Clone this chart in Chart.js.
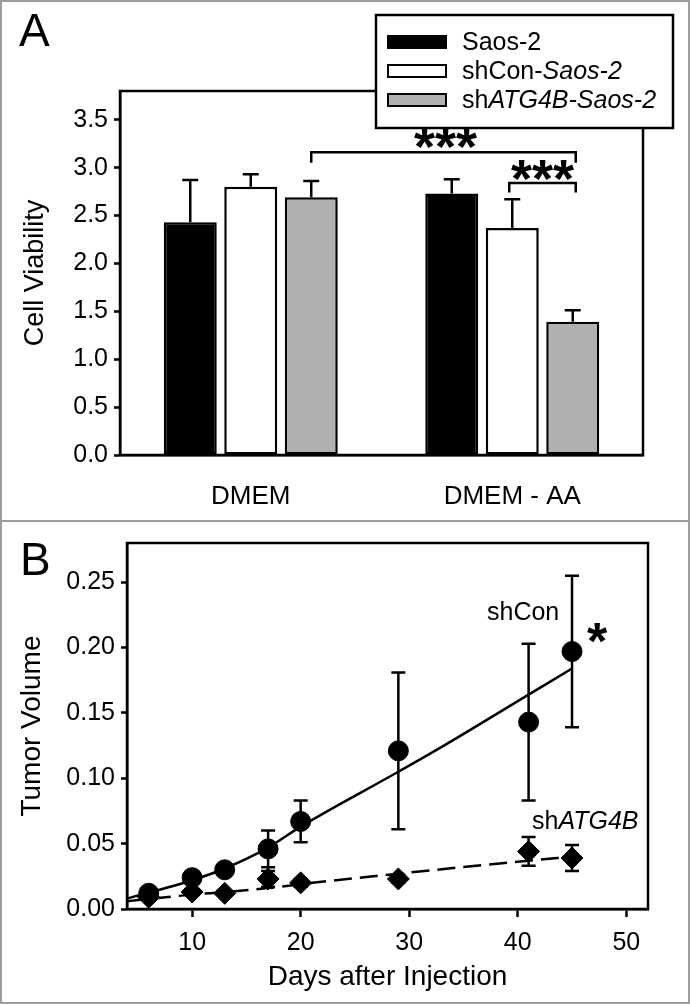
<!DOCTYPE html>
<html>
<head>
<meta charset="utf-8">
<script src="https://cdn.jsdelivr.net/npm/chart.js@4.4.0/dist/chart.umd.min.js"></script>
<style>
  html, body { margin: 0; padding: 0; background: #fff; }
  #wrap { position: relative; width: 690px; height: 1004px; }
  #graficoA { position: absolute; left: 0; top: 0; }
  #graficoB { position: absolute; left: 0; top: 521px; }
  #divider { position: absolute; left: 0; top: 520px; width: 690px; height: 2px; background: #9d9d9d; }
  #frame { position: absolute; left: 0; top: 0; width: 690px; height: 1004px; box-sizing: border-box; border: 2px solid #9d9d9d; pointer-events: none; }
</style>
</head>
<body>
<div id="wrap">
  <canvas id="graficoA" width="690" height="521"></canvas>
  <canvas id="graficoB" width="690" height="483"></canvas>
  <div id="divider"></div>
  <div id="frame"></div>
</div>
<script>
const FONT = "'Liberation Sans', Arial, Helvetica, sans-serif";

// Panel A - cell viability
const conditions = ['DMEM', 'DMEM - AA'];
const cellLines = ['Saos-2', 'shCon-Saos-2', 'shATG4B-Saos-2'];
const saosMean = [2.43, 2.73];
const saosErr = [0.44, 0.15];
const shConMean = [2.80, 2.37];
const shConErr = [0.13, 0.30];
const shAtgMean = [2.69, 1.39];
const shAtgErr = [0.17, 0.12];
const viabilityTicks = [0, 0.5, 1.0, 1.5, 2.0, 2.5, 3.0, 3.5];

// Panel B - tumor volume
const days = [6, 10, 13, 17, 20, 29, 41, 45];
const shConVolume = [0.012, 0.024, 0.030, 0.046, 0.067, 0.121, 0.143, 0.197];
const shConVolErr = [0.002, 0.003, 0.004, 0.014, 0.016, 0.060, 0.060, 0.058];
const shAtgVolume = [0.009, 0.013, 0.012, 0.023, 0.020, 0.023, 0.044, 0.039];
const shAtgVolErr = [0.002, 0.002, 0.002, 0.006, 0.003, 0.003, 0.011, 0.010];
const shConFitDays = [4, 10, 13, 17, 20, 29, 33, 41, 45];
const shConFit = [0.008, 0.022, 0.031, 0.047, 0.063, 0.105, 0.124, 0.164, 0.184];
const shAtgFitDays = [4, 10, 13, 17, 20, 29, 41, 45];
const shAtgFit = [0.006, 0.011, 0.013, 0.016, 0.019, 0.027, 0.037, 0.040];
const dayTicks = [10, 20, 30, 40, 50];
const volumeTicks = [0, 0.05, 0.10, 0.15, 0.20, 0.25];

function pts(xs, ys) {
  return xs.map((x, i) => ({ x: x, y: ys[i] }));
}

// text made of upright / italic pieces
function richText(ctx, parts, x, y, size) {
  parts.forEach(p => {
    ctx.font = (p[1] ? 'italic ' : '') + size + 'px ' + FONT;
    ctx.fillText(p[0], x, y);
    x += ctx.measureText(p[0]).width;
  });
}

function stars(ctx, n, cx, cy, size, gap) {
  ctx.font = 'bold ' + size + 'px ' + FONT;
  ctx.textAlign = 'center';
  ctx.textBaseline = 'alphabetic';
  for (let k = 0; k < n; k++) {
    ctx.fillText('*', cx + (k - (n - 1) / 2) * gap, cy + 0.57 * size);
  }
}

const frameBox = {
  id: 'frameBox',
  afterDraw(chart) {
    const { ctx, chartArea: a } = chart;
    ctx.save();
    ctx.strokeStyle = '#000';
    ctx.lineWidth = 2.5;
    ctx.strokeRect(a.left, a.top, a.right - a.left, a.bottom - a.top);
    ctx.restore();
  }
};

const errorBars = {
  id: 'errorBars',
  afterDatasetsDraw(chart) {
    const { ctx } = chart;
    const ys = chart.scales.y;
    ctx.save();
    ctx.strokeStyle = '#000';
    ctx.lineWidth = 2.5;
    chart.data.datasets.forEach((ds, i) => {
      if (!ds.errorBars) return;
      const meta = chart.getDatasetMeta(i);
      meta.data.forEach((el, j) => {
        const v = chart.config.type === 'bar' ? ds.data[j] : ds.data[j].y;
        const e = ds.errorBars[j];
        const top = ys.getPixelForValue(v + e);
        const bottom = ds.upOnly ? el.y : ys.getPixelForValue(v - e);
        const w = ds.capHalf;
        ctx.beginPath();
        ctx.moveTo(el.x, bottom); ctx.lineTo(el.x, top);
        ctx.moveTo(el.x - w, top); ctx.lineTo(el.x + w, top);
        if (!ds.upOnly) { ctx.moveTo(el.x - w, bottom); ctx.lineTo(el.x + w, bottom); }
        ctx.stroke();
      });
    });
    ctx.restore();
  }
};

// legend and significance brackets of panel A
const legendParts = [
  [['Saos-2', false]],
  [['shCon-', false], ['Saos-2', true]],
  [['sh', false], ['ATG4B-Saos-2', true]]
];

const panelADecor = {
  id: 'panelADecor',
  afterDraw(chart) {
    const { ctx } = chart;
    const ys = chart.scales.y;
    const gray = chart.getDatasetMeta(2).data;
    const white = chart.getDatasetMeta(1).data;
    ctx.save();
    ctx.strokeStyle = '#000';
    ctx.fillStyle = '#000';
    ctx.lineWidth = 2.5;

    // brackets
    const b1y = ys.getPixelForValue(3.16), b1d = ys.getPixelForValue(3.05);
    const x1 = gray[0].x, x2 = gray[1].x + 3;
    ctx.beginPath();
    ctx.moveTo(x1, b1d); ctx.lineTo(x1, b1y); ctx.lineTo(x2, b1y); ctx.lineTo(x2, b1d);
    ctx.stroke();
    stars(ctx, 3, (x1 + x2) / 2 + 2, b1y - 18, 54, 21);

    const b2y = ys.getPixelForValue(2.84), b2d = ys.getPixelForValue(2.74);
    const x3 = white[1].x - 3;
    ctx.beginPath();
    ctx.moveTo(x3, b2d); ctx.lineTo(x3, b2y); ctx.lineTo(x2, b2y); ctx.lineTo(x2, b2d);
    ctx.stroke();
    stars(ctx, 3, (x3 + x2) / 2, b2y - 17, 54, 21);

    // legend box
    ctx.fillStyle = '#fff';
    ctx.fillRect(376, 15, 297, 113);
    ctx.strokeRect(376, 15, 297, 113);
    const rows = [42, 71, 100];
    ctx.textAlign = 'left';
    ctx.textBaseline = 'middle';
    chart.data.datasets.forEach((ds, i) => {
      ctx.fillStyle = ds.backgroundColor;
      ctx.fillRect(388, rows[i] - 6, 58, 12);
      ctx.lineWidth = 2;
      ctx.strokeRect(388, rows[i] - 6, 58, 12);
      ctx.fillStyle = '#000';
      richText(ctx, legendParts[i], 462, rows[i] + 1, 25);
    });

    // panel letter
    ctx.font = '46px ' + FONT;
    ctx.textBaseline = 'alphabetic';
    ctx.fillText('A', 19, 46);
    ctx.restore();
  }
};

const panelBDecor = {
  id: 'panelBDecor',
  afterDraw(chart) {
    const { ctx } = chart;
    ctx.save();
    ctx.fillStyle = '#000';
    ctx.textBaseline = 'middle';
    ctx.textAlign = 'left';
    richText(ctx, [['shCon', false]], 487, 92, 25);
    richText(ctx, [['sh', false], ['ATG4B', true]], 532, 301, 25);
    stars(ctx, 1, 597, 108, 52, 20);
    ctx.font = '46px ' + FONT;
    ctx.textAlign = 'left';
    ctx.textBaseline = 'alphabetic';
    ctx.fillText('B', 20, 54);
    ctx.restore();
  }
};

const axisFont = s => ({ family: FONT, size: s });

const ctxA = document.getElementById('graficoA').getContext('2d');
new Chart(ctxA, {
  type: 'bar',
  data: {
    labels: conditions,
    datasets: [{
      label: cellLines[0],
      data: saosMean,
      errorBars: saosErr,
      backgroundColor: '#000000'
    }, {
      label: cellLines[1],
      data: shConMean,
      errorBars: shConErr,
      backgroundColor: '#ffffff'
    }, {
      label: cellLines[2],
      data: shAtgMean,
      errorBars: shAtgErr,
      backgroundColor: '#b0b0b0'
    }].map(ds => Object.assign(ds, {
      borderColor: '#000',
      borderWidth: 2.5,
      borderSkipped: false,
      categoryPercentage: 0.694,
      barPercentage: 0.876,
      upOnly: true,
      capHalf: 8
    }))
  },
  options: {
    responsive: false,
    animation: false,
    layout: { padding: { left: 0, top: 91, right: 47, bottom: 0 } },
    plugins: { legend: { display: false }, tooltip: { enabled: false } },
    scales: {
      x: {
        grid: { display: false },
        border: { display: true, color: '#000', width: 2.5 },
        ticks: { color: '#000', font: axisFont(26), padding: 18 },
        afterFit: s => { s.height = 66; }
      },
      y: {
        min: 0,
        max: 3.8,
        afterBuildTicks: s => { s.ticks = viabilityTicks.map(v => ({ value: v })); },
        afterFit: s => { s.width = 120; },
        grid: { drawOnChartArea: false, drawTicks: true, tickLength: 6, tickWidth: 2.5, tickColor: '#000' },
        border: { display: true, color: '#000', width: 2.5 },
        ticks: { color: '#000', font: axisFont(25), padding: 6, callback: v => v.toFixed(1) },
        title: { display: true, text: 'Cell Viability', color: '#000', font: axisFont(27), padding: { top: 19 } }
      }
    }
  },
  plugins: [errorBars, frameBox, panelADecor]
});

const ctxB = document.getElementById('graficoB').getContext('2d');
new Chart(ctxB, {
  type: 'scatter',
  data: {
    datasets: [{
      label: 'shCon',
      data: pts(days, shConVolume),
      errorBars: shConVolErr,
      capHalf: 7,
      pointStyle: 'circle',
      pointRadius: 10,
      backgroundColor: '#000',
      borderColor: '#000',
      showLine: false
    }, {
      label: 'shATG4B',
      data: pts(days, shAtgVolume),
      errorBars: shAtgVolErr,
      capHalf: 7,
      pointStyle: 'rectRot',
      pointRadius: 11,
      backgroundColor: '#000',
      borderColor: '#000',
      showLine: false
    }, {
      label: 'shCon fit',
      data: pts(shConFitDays, shConFit),
      showLine: true,
      pointRadius: 0,
      borderColor: '#000',
      borderWidth: 2.5,
      cubicInterpolationMode: 'monotone'
    }, {
      label: 'shATG4B fit',
      data: pts(shAtgFitDays, shAtgFit),
      showLine: true,
      pointRadius: 0,
      borderColor: '#000',
      borderWidth: 2.5,
      borderDash: [18, 8],
      cubicInterpolationMode: 'monotone'
    }]
  },
  options: {
    responsive: false,
    animation: false,
    layout: { padding: { left: 0, top: 22, right: 42, bottom: 0 } },
    plugins: { legend: { display: false }, tooltip: { enabled: false } },
    scales: {
      x: {
        type: 'linear',
        min: 4,
        max: 52,
        afterBuildTicks: s => { s.ticks = dayTicks.map(v => ({ value: v })); },
        afterFit: s => { s.height = 95; },
        grid: { drawOnChartArea: false, drawTicks: true, tickLength: 8, tickWidth: 2.5, tickColor: '#000' },
        border: { display: true, color: '#000', width: 2.5 },
        ticks: { color: '#000', font: axisFont(25), padding: 11 },
        title: { display: true, text: 'Days after Injection', color: '#000', font: axisFont(28), padding: { bottom: 10 } }
      },
      y: {
        min: 0,
        max: 0.28,
        afterBuildTicks: s => { s.ticks = volumeTicks.map(v => ({ value: v })); },
        afterFit: s => { s.width = 127; },
        grid: { drawOnChartArea: false, drawTicks: true, tickLength: 6, tickWidth: 2.5, tickColor: '#000' },
        border: { display: true, color: '#000', width: 2.5 },
        ticks: { color: '#000', font: axisFont(25), padding: 6, callback: v => v.toFixed(2) },
        title: { display: true, text: 'Tumor Volume', color: '#000', font: axisFont(28), padding: { top: 15 } }
      }
    }
  },
  plugins: [errorBars, frameBox, panelBDecor]
});
</script>
</body>
</html>
